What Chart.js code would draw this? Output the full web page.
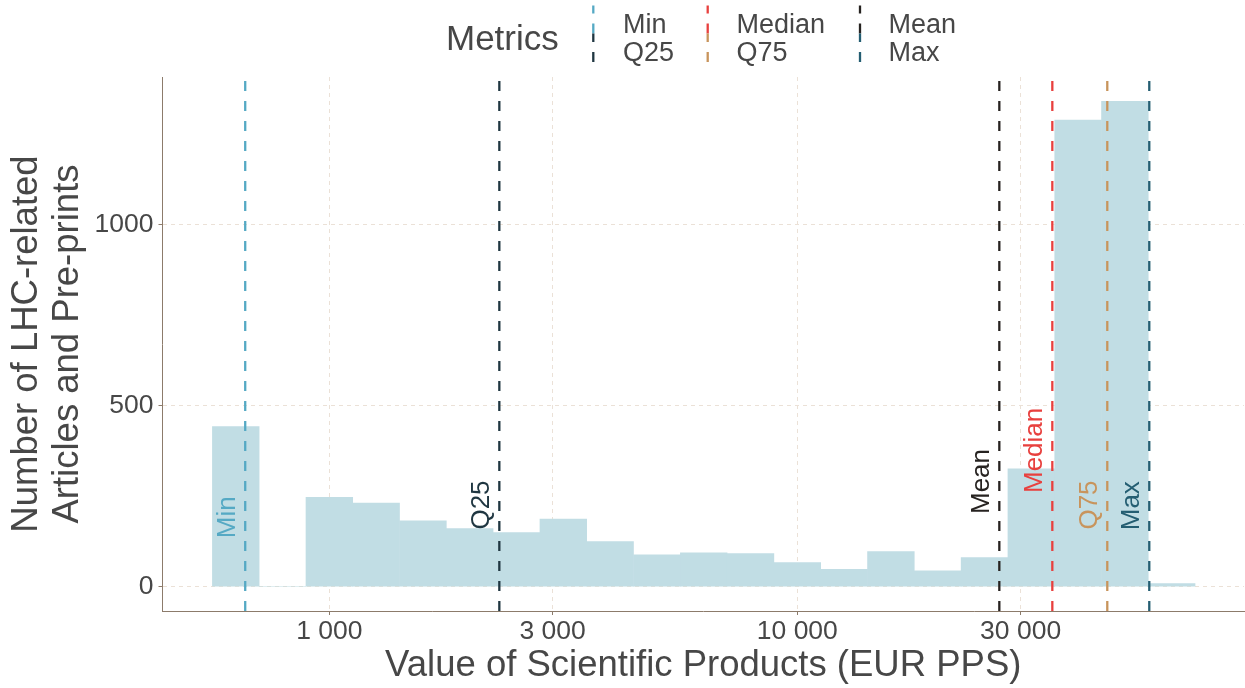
<!DOCTYPE html>
<html><head><meta charset="utf-8">
<script src="https://cdn.jsdelivr.net/npm/chart.js@4.4.1/dist/chart.umd.min.js"></script>
<style>html,body{margin:0;padding:0;background:#fff;overflow:hidden}canvas{display:block}</style>
</head><body>
<canvas id="c" width="1245" height="688"></canvas>
<script>
// ---- data ----
const binCenters = [631, 794, 1000, 1259, 1585, 1995, 2512, 3162, 3981, 5012, 6310, 7943, 10000, 12589, 15849, 19953, 25119, 31623, 39811, 50119, 63096];
const counts     = [443, 0, 247, 231, 182, 161, 150, 187, 125, 88, 94, 92, 67, 48, 97, 44, 81, 326, 1290, 1342, 9];
const metricNames  = ['Min', 'Q25', 'Mean', 'Median', 'Q75', 'Max'];
const metricValues = [661, 2308, 27020, 35070, 45960, 56510];
const metricLabelY = [192, 226, 291, 377, 226, 224];
const metricColors = ['#55a9c4', '#1f3641', '#262220', '#e8403e', '#c8945c', '#245e72'];
const legendColumns = [['Min', 'Q25'], ['Median', 'Q75'], ['Mean', 'Max']];
const xTicks = [1000, 3000, 10000, 30000];
const yTicks = [0, 500, 1000];
const xRange = [440, 90060];
const yRange = [-67, 1409];

const FONT = "'Liberation Sans', Arial, sans-serif";
const TXT = '#474747';
const AXIS = '#8c7b6b';
const GRID = '#ebe1d7';
Chart.defaults.font.family = FONT;

const fmt = v => String(v).replace(/\B(?=(\d{3})+(?!\d))/g, ' ');
const colorOf = n => metricColors[metricNames.indexOf(n)];

const datasets = [];
metricNames.forEach((n, i) => {
  datasets.push({
    type: 'line', label: n, order: 0,
    data: [{x: metricValues[i], y: yRange[0]}, {x: metricValues[i], y: yRange[1]}],
    borderColor: metricColors[i], borderWidth: 2.3, borderDash: [10, 10],
    pointRadius: 0, fill: false, tension: 0
  });
});
datasets.push({
  type: 'bar', label: 'count', order: 10,
  data: binCenters.map((c, i) => ({x: c, y: counts[i]})),
  backgroundColor: '#c1dde4', borderWidth: 0,
  categoryPercentage: 1, barPercentage: 1
});

const overlay = {
  id: 'overlay',
  afterDatasetsDraw(chart) {
    const {ctx, scales: {x, y}} = chart;
    ctx.save();
    ctx.font = '26px ' + FONT;
    ctx.textAlign = 'center';
    ctx.textBaseline = 'alphabetic';
    metricNames.forEach((n, i) => {
      const px = x.getPixelForValue(metricValues[i]) - 10;
      const py = y.getPixelForValue(metricLabelY[i]);
      ctx.save();
      ctx.translate(px, py);
      ctx.rotate(-Math.PI / 2);
      ctx.fillStyle = metricColors[i];
      ctx.fillText(n, 0, 0);
      ctx.restore();
    });
    ctx.restore();
  },
  afterDraw(chart) {
    const ctx = chart.ctx;
    ctx.save();
    ctx.fillStyle = TXT;
    ctx.textAlign = 'left';
    ctx.textBaseline = 'alphabetic';
    ctx.font = '35px ' + FONT;
    ctx.fillText('Metrics', 446, 50);
    const keyX = [593.3, 707.7, 860];
    const textX = [623, 736.5, 888.5];
    const rowBase = [33.3, 60.8];
    const rowKey = [[33.5, 5.5], [62, 33.5]];
    ctx.font = '27px ' + FONT;
    legendColumns.forEach((col, c) => {
      col.forEach((name, r) => {
        ctx.strokeStyle = colorOf(name);
        ctx.lineWidth = 2.3;
        ctx.setLineDash([10, 10]);
        ctx.beginPath();
        ctx.moveTo(keyX[c], rowKey[r][0]);
        ctx.lineTo(keyX[c], rowKey[r][1]);
        ctx.stroke();
        ctx.setLineDash([]);
        ctx.fillStyle = TXT;
        ctx.fillText(name, textX[c], rowBase[r]);
      });
    });
    ctx.restore();
  }
};

const gridOpts = {color: GRID, lineWidth: 1, tickColor: AXIS, tickLength: 4, tickWidth: 1, tickBorderDash: [], offset: false};
const borderOpts = {color: AXIS, width: 1, dash: [4, 4]};

new Chart(document.getElementById('c'), {
  type: 'bar',
  data: {datasets},
  options: {
    responsive: false, animation: false, devicePixelRatio: 1,
    layout: {padding: {top: 77, right: 1, left: 0, bottom: 0}},
    plugins: {legend: {display: false}, tooltip: {enabled: false}},
    scales: {
      x: {
        type: 'logarithmic', min: xRange[0], max: xRange[1], bounds: 'data', offset: false,
        afterBuildTicks: s => { s.ticks = xTicks.map(v => ({value: v})); },
        afterFit: s => { s.height = 77; },
        ticks: {callback: v => fmt(v), font: {size: 26.5}, color: TXT, padding: 1, maxRotation: 0, autoSkip: false},
        grid: gridOpts, border: borderOpts,
        title: {display: true, text: 'Value of Scientific Products (EUR PPS)', font: {size: 36.5}, color: TXT, padding: 0}
      },
      y: {
        type: 'linear', min: yRange[0], max: yRange[1],
        afterBuildTicks: s => { s.ticks = yTicks.map(v => ({value: v})); },
        afterFit: s => { s.width = 162.5; },
        ticks: {callback: v => String(v), font: {size: 26.5}, color: TXT, padding: 5},
        grid: gridOpts, border: borderOpts,
        title: {display: true, text: ['Number of LHC-related', 'Articles and Pre-prints'], font: {size: 36.5, lineHeight: 1.13}, color: TXT, padding: {top: 6, bottom: 0}}
      }
    }
  },
  plugins: [overlay]
});
</script>
</body></html>
